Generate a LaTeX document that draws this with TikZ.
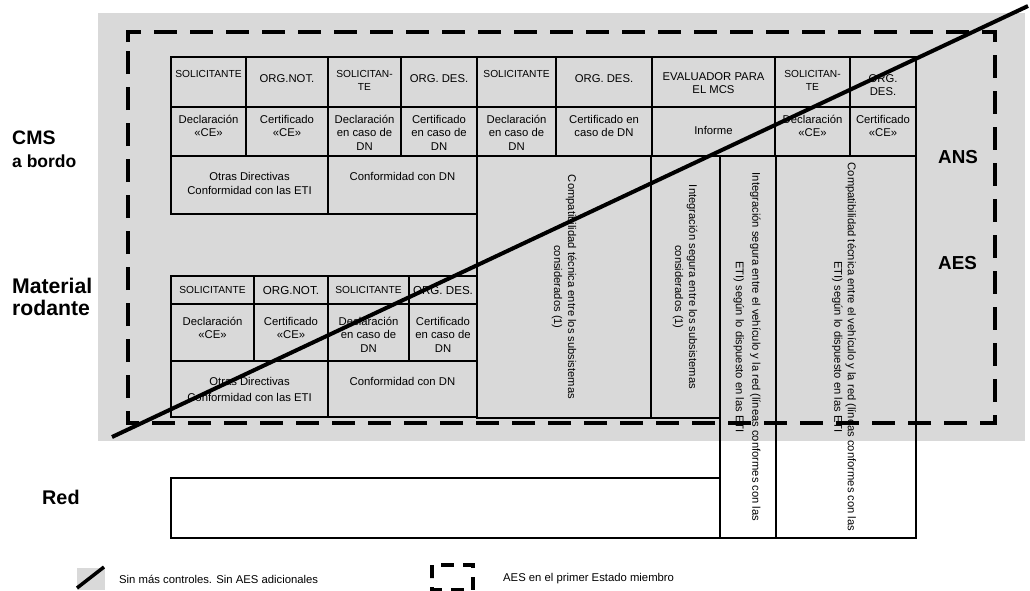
\documentclass[tikz,border=0pt]{standalone}
\usepackage{fontspec}
\setmainfont{Liberation Sans}
\usetikzlibrary{positioning}

\definecolor{bggrey}{RGB}{217,217,217}

% one table cell: frame plus its text
\newcommand{\tabcell}[7][celltxt]{%
  \draw[cellline] (#3,#4) rectangle (#5,#6);
  \node[#1] (#2) at ({(#3+#5)/2},#4) {\strut #7};
}

\tikzset{
  cellline/.style={line width=1.2pt},
  txtbase/.style={inner sep=0pt, anchor=north, align=center, text=black},
  head/.style={txtbase, font=\fontsize{10.2}{12.5}\selectfont, yshift=-12pt},
  headbig/.style={txtbase, font=\fontsize{11.3}{13.6}\selectfont, yshift=-15.5pt},
  celltxt/.style={txtbase, font=\fontsize{11.3}{13.6}\selectfont, yshift=-6.5pt},
  rowthree/.style={txtbase, font=\fontsize{11.3}{14}\selectfont, yshift=-14.5pt},
  lhead/.style={txtbase, font=\fontsize{10.2}{12.5}\selectfont, yshift=-8.75pt},
  lheadbig/.style={txtbase, font=\fontsize{11.6}{13.6}\selectfont, yshift=-8.5pt},
  lcell/.style={txtbase, font=\fontsize{11.3}{13.6}\selectfont, yshift=-11.5pt},
  lrowthree/.style={txtbase, font=\fontsize{11.3}{15.5}\selectfont, yshift=-13.5pt},
  vtxt/.style={inner sep=0pt, rotate=-90, align=center, font=\fontsize{11.2}{14}\selectfont},
  sidelbl/.style={inner sep=0pt, anchor=base west, align=left},
  legtxt/.style={inner sep=0pt, anchor=base west, font=\fontsize{11.3}{13.6}\selectfont},
  aesline/.style={line width=3.5pt, dash pattern=on 23pt off 13pt},
  slash/.style={line width=4pt},
}

\begin{document}
\begin{tikzpicture}[x=1pt, y=-1pt]

    \useasboundingbox (0,0) rectangle (1030,590);
    \fill[bggrey] (98,13) rectangle (1025,441);

    % upper table (CMS a bordo)
    \tabcell[head]{solA}{171}{57}{246}{107}{SOLICITANTE}
    \tabcell[headbig]{notA}{246}{57}{328}{107}{ORG.NOT.}
    \tabcell[head]{solB}{328}{57}{401}{107}{SOLICITAN-\\TE}
    \tabcell[headbig]{desB}{401}{57}{477}{107}{ORG. DES.}
    \tabcell[head]{solC}{477}{57}{556}{107}{SOLICITANTE}
    \tabcell[headbig]{desC}{556}{57}{652}{107}{ORG. DES.}
    \tabcell[headbig,yshift=2pt]{evalMCS}{652}{57}{775}{107}{EVALUADOR PARA\\EL MCS}
    \tabcell[head]{solD}{775}{57}{850}{107}{SOLICITAN-\\TE}
    \tabcell[headbig]{desD}{850}{57}{916}{107}{ORG.\\DES.}

    \tabcell{declA}{171}{107}{246}{156}{Declaración\\«CE»}
    \tabcell{certA}{246}{107}{328}{156}{Certificado\\«CE»}
    \tabcell{declB}{328}{107}{401}{156}{Declaración\\en caso de\\DN}
    \tabcell{certB}{401}{107}{477}{156}{Certificado\\en caso de\\DN}
    \tabcell{declC}{477}{107}{556}{156}{Declaración\\en caso de\\DN}
    \tabcell{certC}{556}{107}{652}{156}{Certificado en\\caso de DN}
    \tabcell[celltxt,yshift=-11pt]{informe}{652}{107}{775}{156}{Informe}
    \tabcell{declD}{775}{107}{850}{156}{Declaración\\«CE»}
    \tabcell{certD}{850}{107}{916}{156}{Certificado\\«CE»}

    \tabcell[rowthree]{otrasA}{171}{156}{328}{214}{Otras Directivas\\Conformidad con las ETI}
    \tabcell[rowthree]{confA}{328}{156}{477}{214}{Conformidad con DN}

    % lower table (material rodante)
    \tabcell[lhead]{solE}{171}{276}{254}{304}{SOLICITANTE}
    \tabcell[lheadbig]{notE}{254}{276}{328}{304}{ORG.NOT.}
    \tabcell[lhead]{solF}{328}{276}{409}{304}{SOLICITANTE}
    \tabcell[lheadbig]{desF}{409}{276}{477}{304}{ORG. DES.}

    \tabcell[lcell]{declE}{171}{304}{254}{361}{Declaración\\«CE»}
    \tabcell[lcell]{certE}{254}{304}{328}{361}{Certificado\\«CE»}
    \tabcell[lcell]{declF}{328}{304}{409}{361}{Declaración\\en caso de\\DN}
    \tabcell[lcell]{certF}{409}{304}{477}{361}{Certificado\\en caso de\\DN}

    \tabcell[lrowthree]{otrasE}{171}{361}{328}{417}{Otras Directivas\\Conformidad con las ETI}
    \tabcell[lrowthree]{confE}{328}{361}{477}{417}{Conformidad con DN}

    % tall columns
    \draw[cellline] (477,156) rectangle (651,418);
    \node[vtxt] (compSub) at (564,287)
        {Compatibilidad técnica entre los subsistemas\\considerados (1)};
    \draw[cellline] (651,156) rectangle (720,418);
    \node[vtxt] (integSub) at (685,287)
        {Integración segura entre los subsistemas\\considerados (1)};
    \draw[cellline] (720,156) rectangle (776,538);
    \node[vtxt, font=\fontsize{11.2}{16.5}\selectfont] (integRed) at (747,347)
        {Integración segura entre el vehículo y la red (líneas conformes con las\\ETI) según lo dispuesto en las ETI};
    \draw[cellline] (776,156) rectangle (916,538);
    \node[vtxt, font=\fontsize{11.2}{13.5}\selectfont] (compRed) at (844,347)
        {Compatibilidad técnica entre el vehículo y la red (líneas conformes con las\\ETI) según lo dispuesto en las ETI};

    % red
    \draw[cellline] (171,478) rectangle (720,538);

    % side labels
    \node[sidelbl, font=\bfseries\fontsize{19.5}{24}\selectfont] (cms) at (12,144) {CMS};
    \node[sidelbl, font=\bfseries\fontsize{17.5}{22}\selectfont] (bordo) at (12,167) {a bordo};
    \node[sidelbl, font=\bfseries\fontsize{21.2}{24}\selectfont] (material) at (12,293) {Material};
    \node[sidelbl, font=\bfseries\fontsize{21.2}{24}\selectfont] (rodante) at (12,315) {rodante};
    \node[sidelbl, font=\bfseries\fontsize{19.8}{24}\selectfont] (red) at (42,504) {Red};
    \node[sidelbl, font=\bfseries\fontsize{18.8}{24}\selectfont] (ans) at (938,163) {ANS};
    \node[sidelbl, font=\bfseries\fontsize{18.8}{24}\selectfont] (aes) at (938,269) {AES};

    % AES in first member state, and the slash
    \draw[aesline] (128,42) -- (128,32) -- (995,32) -- (995,423) -- (128,423) -- cycle;
    \coordinate (slashA) at (112,437);
    \coordinate (slashB) at (1028,6);
    \draw[slash] (slashA) -- (slashB);

    % legend
    \fill[bggrey] (77,568) rectangle (105,590);
    \draw[line width=3.5pt] (77,588) -- (104,567);
    \node[legtxt] (legSlash) at (119,583) {Sin más controles. Sin AES adicionales};
    \draw[line width=3.5pt, dash pattern=on 13pt off 9pt] (432,578) -- (432,565) -- (473,565) -- (473,590) -- (432,590) -- cycle;
    \node[legtxt] (legAes) at (503,581) {AES en el primer Estado miembro};

\end{tikzpicture}
\end{document}
